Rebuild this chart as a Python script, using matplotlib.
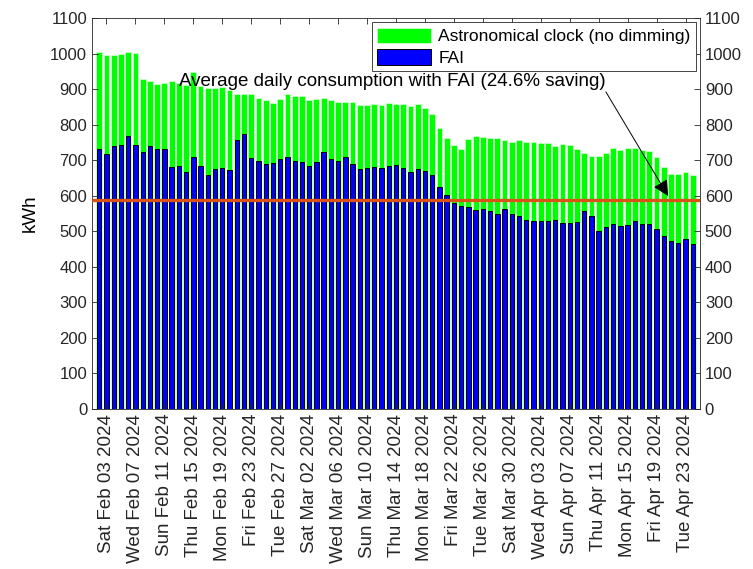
import numpy as np
import pandas as pd
import matplotlib
matplotlib.use('Agg')
import matplotlib.pyplot as plt

plt.rcParams['font.family'] = ['Liberation Sans', 'DejaVu Sans']
plt.rcParams['font.size'] = 12.5

# Daily consumption (kWh), one value per day starting Fri Feb 02 2024
start_day = '2024-02-02'
astro_kwh = [1004, 995, 995, 998, 1003, 1002, 927, 923, 915, 917,
             923, 918, 912, 947, 908, 902, 903, 906, 897, 885,
             885, 887, 875, 869, 861, 873, 886, 881, 880, 869,
             872, 874, 868, 864, 865, 863, 856, 854, 858, 854,
             860, 858, 859, 853, 857, 848, 829, 790, 762, 744,
             732, 760, 768, 764, 763, 763, 758, 752, 756, 752,
             750, 749, 749, 741, 745, 744, 731, 720, 712, 713,
             721, 735, 730, 734, 735, 728, 725, 709, 680, 660,
             660, 668, 658]
fai_kwh = [732, 717, 740, 743, 767, 742, 722, 740, 731, 732,
           680, 684, 667, 708, 684, 657, 674, 677, 671, 756,
           773, 707, 697, 688, 691, 703, 709, 697, 696, 684,
           696, 722, 703, 697, 709, 690, 676, 679, 682, 677,
           684, 686, 677, 666, 676, 669, 658, 624, 601, 580,
           570, 568, 560, 562, 558, 549, 564, 548, 544, 533,
           530, 530, 530, 531, 522, 523, 527, 556, 544, 501,
           512, 520, 514, 519, 530, 520, 520, 505, 488, 472,
           466, 477, 464]
avg_fai = 588
saving_pct = 24.6
tick_step = 4
tick_first = 1

dates = pd.date_range(start_day, periods=len(astro_kwh), freq='D')
x = np.arange(len(dates))

fig = plt.figure(figsize=(7.53, 5.69), dpi=100)
ax = fig.add_axes([0.1222, 0.2812, 0.8074, 0.6872])

b1 = ax.bar(x, astro_kwh, width=0.8, color=(0, 1, 0), edgecolor=(0.85, 1, 0.85),
            linewidth=0.5, label='Astronomical clock (no dimming)')
b2 = ax.bar(x, fai_kwh, width=0.6, color=(0, 0, 1), edgecolor='k',
            linewidth=0.7, label='FAI')
ax.axhline(avg_fai, color='#D95319', lw=2.4, zorder=3)

# Annotation for the FAI average line
tail = (70.0, 892)
tip = (78.6, 599)
ax.text(tail[0], 920, f'Average daily consumption with FAI ({saving_pct}% saving)',
        ha='right', va='center', fontsize=13.5)
ax.annotate('', xy=tip, xytext=tail,
            arrowprops=dict(arrowstyle='-|>', color='k', lw=0.7,
                            mutation_scale=24, shrinkA=0, shrinkB=0))

ax.set_xlim(-1, len(dates))
ax.set_ylim(0, 1100)
ax.set_yticks(np.arange(0, 1101, 100))
tick_idx = x[tick_first::tick_step]
ax.set_xticks(tick_idx)
ax.set_xticklabels([dates[i].strftime('%a %b %d %Y') for i in tick_idx],
                   rotation=90, fontsize=13.5)
ax.set_ylabel('kWh', fontsize=13.5, labelpad=8)

for s in ax.spines.values():
    s.set_color('0.15')
    s.set_linewidth(0.6)
ax.tick_params(axis='both', direction='in', length=4, width=0.6, color='0.15',
               labelcolor='0.15')
ax.tick_params(axis='y', right=True, labelright=True, labelsize=12)
ax.tick_params(axis='x', top=True)

leg = ax.legend(handles=[b1, b2], loc='upper right', fancybox=False,
                edgecolor='0.15', framealpha=1, borderaxespad=0.25,
                handlelength=3.1, handleheight=1.0, borderpad=0.3,
                labelspacing=0.3, handletextpad=0.4)
leg.get_frame().set_linewidth(0.6)

fig.savefig('out.png', dpi=100)
